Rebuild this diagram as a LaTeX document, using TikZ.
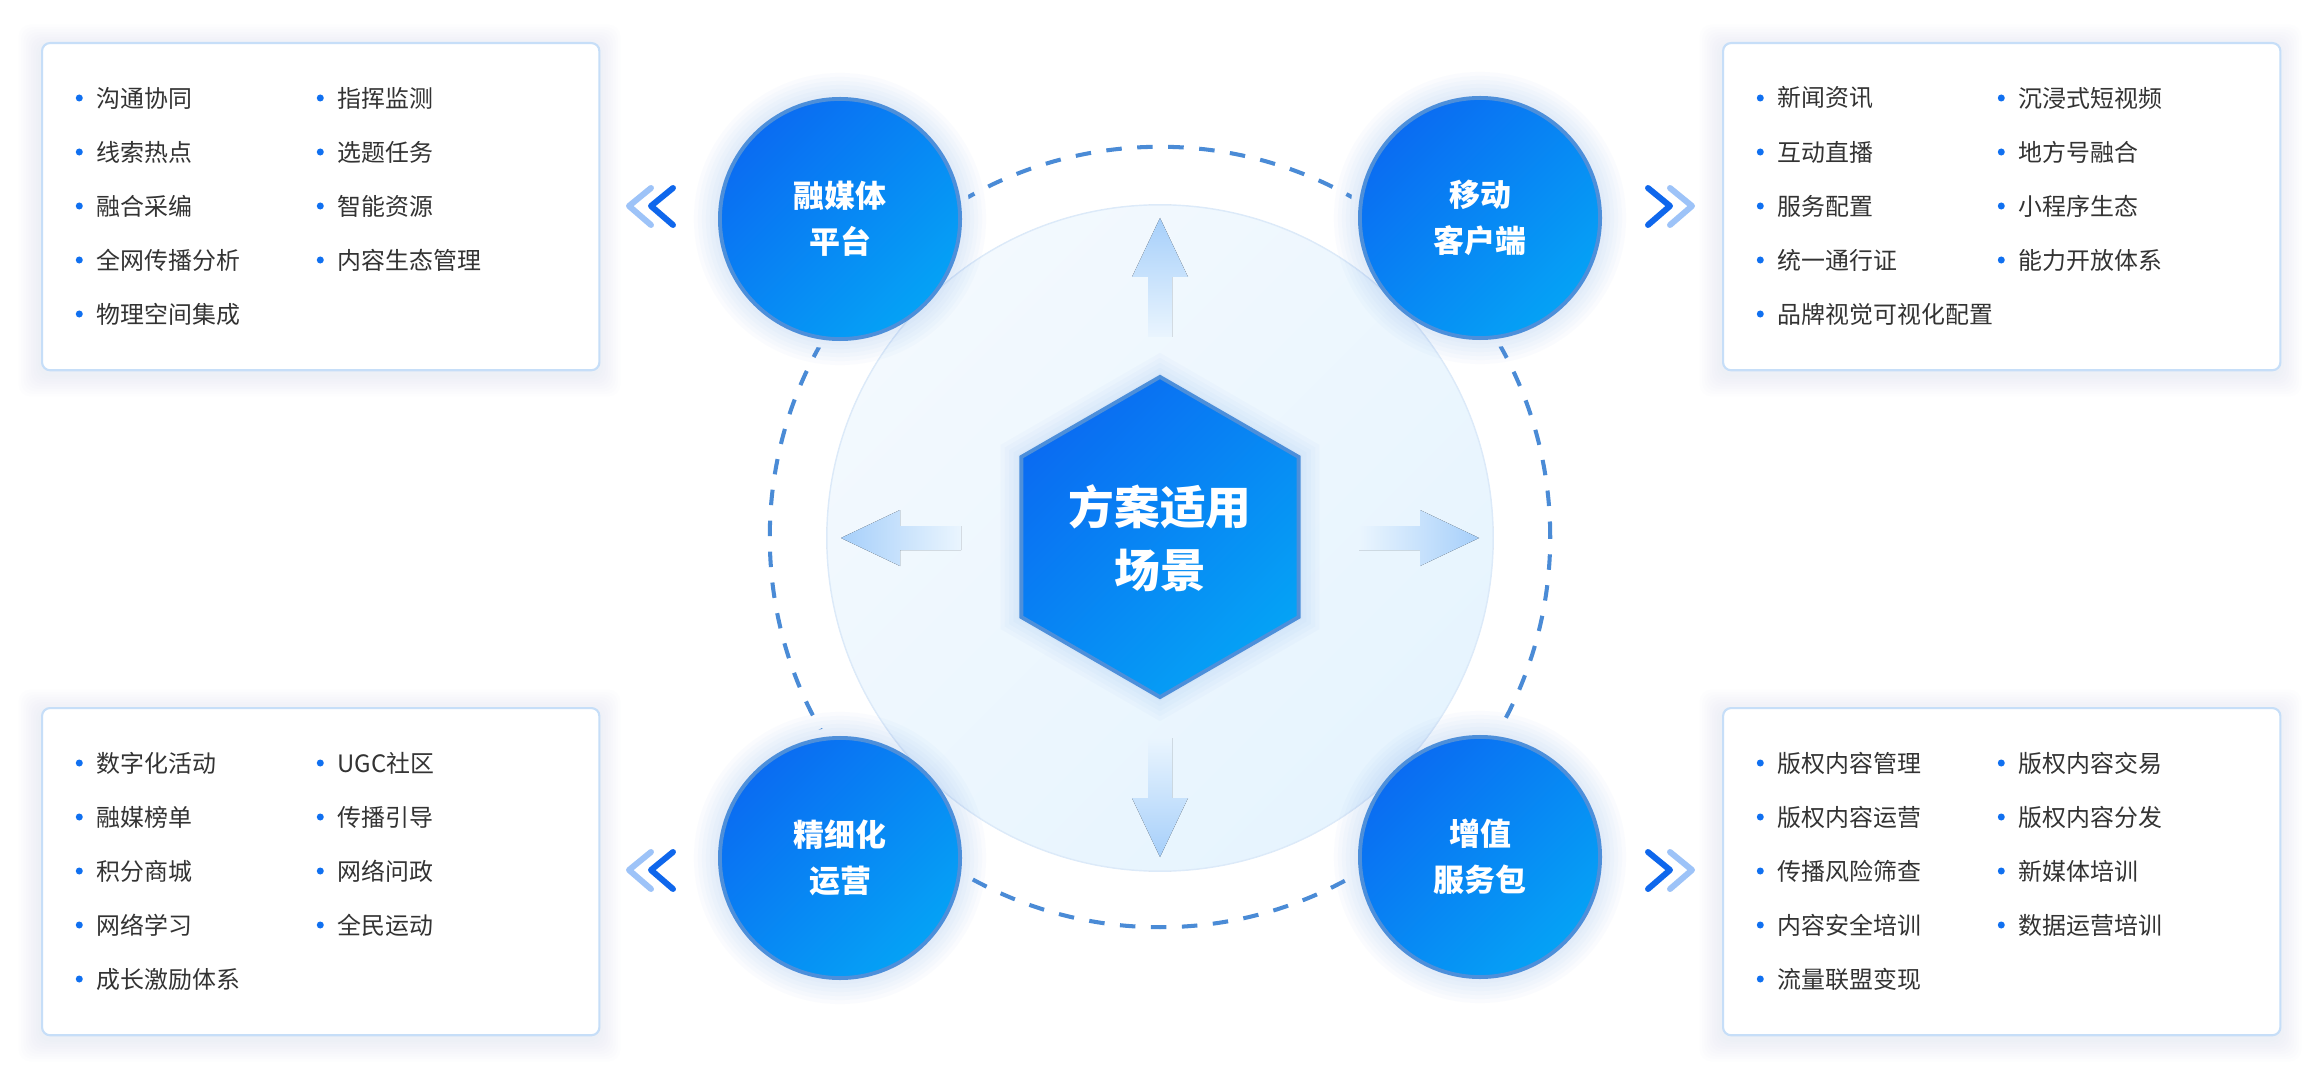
\documentclass[tikz,border=0pt]{standalone}
\usepackage{fontspec}
\setmainfont{Noto Sans CJK SC}
\usepackage{xcolor}
\usetikzlibrary{
    calc,
    positioning,
    shapes.geometric
}

\definecolor{hubA}{HTML}{0A6CF2}
\definecolor{hubB}{HTML}{05A2F5}
\definecolor{rimc}{HTML}{4D8FDA}
\definecolor{dashc}{HTML}{4A8BD6}
\definecolor{boxline}{HTML}{C6DEF8}
\definecolor{textc}{HTML}{333333}
\definecolor{dotc}{HTML}{1070F0}
\definecolor{diskA}{HTML}{F3F9FE}
\definecolor{diskB}{HTML}{E6F4FE}
\definecolor{diskline}{HTML}{DCEAF9}
\definecolor{arrA}{HTML}{A6CFFA}
\definecolor{arrB}{HTML}{EAF5FE}
\definecolor{chevA}{HTML}{0F67EC}
\definecolor{chevB}{HTML}{9DC3F8}
\definecolor{glowc}{HTML}{6A9EE8}

\tikzset{
    box/.style={draw=boxline, line width=0.6pt, fill=white, rounded corners=0.08cm,
        minimum width=5.57cm, minimum height=3.27cm, inner sep=0pt, anchor=north west},
    item/.style={anchor=west, inner sep=0pt, text=textc, font=\fontsize{6.8}{8}\selectfont,
        label={[circle, fill=dotc, inner sep=0pt, minimum size=0.07cm, label distance=0.125cm]left:{}}},
    hub/.style={circle, minimum size=2.4cm, draw=rimc, line width=1.1pt,
        top color=hubA, bottom color=hubB, shading angle=45,
        text=white, align=center, font=\fontsize{8.8}{13.1}\selectfont\bfseries},
    chev/.style={line width=1.7pt, line cap=round, line join=round},
    arr/.style={draw=none}
}

\begin{document}
\begin{tikzpicture}[x=0.01cm, y=-0.01cm]
    \useasboundingbox[fill=white] (0,0) rectangle (2320,1076);

    % list boxes with a soft glow
    \foreach \bx/\by/\nm in {41/42/bxtl, 1722/42/bxtr, 41/707/bxbl, 1722/707/bxbr} {
        \foreach \k in {1,...,9}
            \fill[glowc, opacity=0.011, rounded corners=0.12cm]
                ({\bx-2.5*\k}, {\by-2.5*\k+5}) rectangle ({\bx+557+2.5*\k}, {\by+327+2.5*\k+5});
        \node[box] (\nm) at (\bx,\by) {};
    }

    \foreach \t [count=\i from 0] in {沟通协同,线索热点,融合采编,全网传播分析,物理空间集成}
        \node[item] (tla\i) at (96, {98+54*\i}) {\t};
    \foreach \t [count=\i from 0] in {指挥监测,选题任务,智能资源,内容生态管理}
        \node[item] (tlb\i) at (337, {98+54*\i}) {\t};

    \foreach \t [count=\i from 0] in {新闻资讯,互动直播,服务配置,统一通行证,品牌视觉可视化配置}
        \node[item] (tra\i) at (1777, {98+54*\i}) {\t};
    \foreach \t [count=\i from 0] in {沉浸式短视频,地方号融合,小程序生态,能力开放体系}
        \node[item] (trb\i) at (2018, {98+54*\i}) {\t};

    \foreach \t [count=\i from 0] in {数字化活动,融媒榜单,积分商城,网络学习,成长激励体系}
        \node[item] (bla\i) at (96, {763+54*\i}) {\t};
    \foreach \t [count=\i from 0] in {UGC社区,传播引导,网络问政,全民运动}
        \node[item] (blb\i) at (337, {763+54*\i}) {\t};

    \foreach \t [count=\i from 0] in {版权内容管理,版权内容运营,传播风险筛查,内容安全培训,流量联盟变现}
        \node[item] (bra\i) at (1777, {763+54*\i}) {\t};
    \foreach \t [count=\i from 0] in {版权内容交易,版权内容分发,新媒体培训,数据运营培训}
        \node[item] (brb\i) at (2018, {763+54*\i}) {\t};

    % dashed ring, broken round the hubs
    \draw[dashc, line width=1.15pt, dash pattern=on 0.155cm off 0.155cm]
        (1160,537) circle[radius=3.9cm];
    \foreach \cx/\cy in {840/219, 1480/218, 840/858, 1480/857}
        \fill[white] (\cx,\cy) circle[radius=1.3cm];

    % inner disc
    \fill[top color=diskA, bottom color=diskB, shading angle=45]
        (1160,538) circle[radius=3.33cm];
    \draw[diskline, line width=0.4pt] (1160,538) circle[radius=3.33cm];

    % glow round hubs and centre
    \foreach \cx/\cy in {840/219, 1480/218, 840/858, 1480/857}
        \foreach \r in {1.22,1.26,...,1.46}
            \fill[glowc, opacity=0.03] (\cx,\cy) circle[radius=\r cm];
    \begin{scope}[shift={(1160,537)}]
        \foreach \r in {1.64,1.69,...,1.89}
            \fill[glowc, opacity=0.035]
                (90:\r cm) -- (30:\r cm) -- (-30:\r cm) -- (-90:\r cm) -- (-150:\r cm) -- (150:\r cm) -- cycle;
        \draw[draw=rimc, line width=1.1pt, top color=hubA, bottom color=hubB, shading angle=45]
            (90:1.6cm) -- (30:1.6cm) -- (-30:1.6cm) -- (-90:1.6cm) -- (-150:1.6cm) -- (150:1.6cm) -- cycle;
    \end{scope}
    \node[text=white, align=center, font=\fontsize{13}{17.9}\selectfont\bfseries]
        (scene) at (1160,538) {方案适用\\场景};

    % hubs
    \node[hub] (rongmei) at (840,219) {融媒体\\平台};
    \node[hub] (yidong) at (1480,218) {移动\\客户端};
    \node[hub] (jingxi) at (840,858) {精细化\\运营};
    \node[hub] (zengzhi) at (1480,857) {增值\\服务包};

    % arrows out of the centre
    \fill[arr, top color=arrA, bottom color=arrB]
        (1148,337) -- (1148,277) -- (1132,277) -- (1160,218) -- (1188,277) -- (1172,277) -- (1172,337) -- cycle;
    \fill[arr, top color=arrB, bottom color=arrA]
        (1148,738) -- (1148,798) -- (1132,798) -- (1160,857) -- (1188,798) -- (1172,798) -- (1172,738) -- cycle;
    \fill[arr, left color=arrA, right color=arrB]
        (961,526) -- (900,526) -- (900,510) -- (841,538) -- (900,566) -- (900,550) -- (961,550) -- cycle;
    \fill[arr, left color=arrB, right color=arrA]
        (1359,526) -- (1420,526) -- (1420,510) -- (1479,538) -- (1420,566) -- (1420,550) -- (1359,550) -- cycle;

    % chevrons
    \draw[chev, chevB] (651,188) -- (629,206) -- (651,225);
    \draw[chev, chevA] (673,188) -- (651,206) -- (673,225);
    \draw[chev, chevB] (651,852) -- (629,870) -- (651,889);
    \draw[chev, chevA] (673,852) -- (651,870) -- (673,889);
    \draw[chev, chevA] (1648,188) -- (1670,206) -- (1648,225);
    \draw[chev, chevB] (1670,188) -- (1692,206) -- (1670,225);
    \draw[chev, chevA] (1648,852) -- (1670,870) -- (1648,889);
    \draw[chev, chevB] (1670,852) -- (1692,870) -- (1670,889);
\end{tikzpicture}
\end{document}
